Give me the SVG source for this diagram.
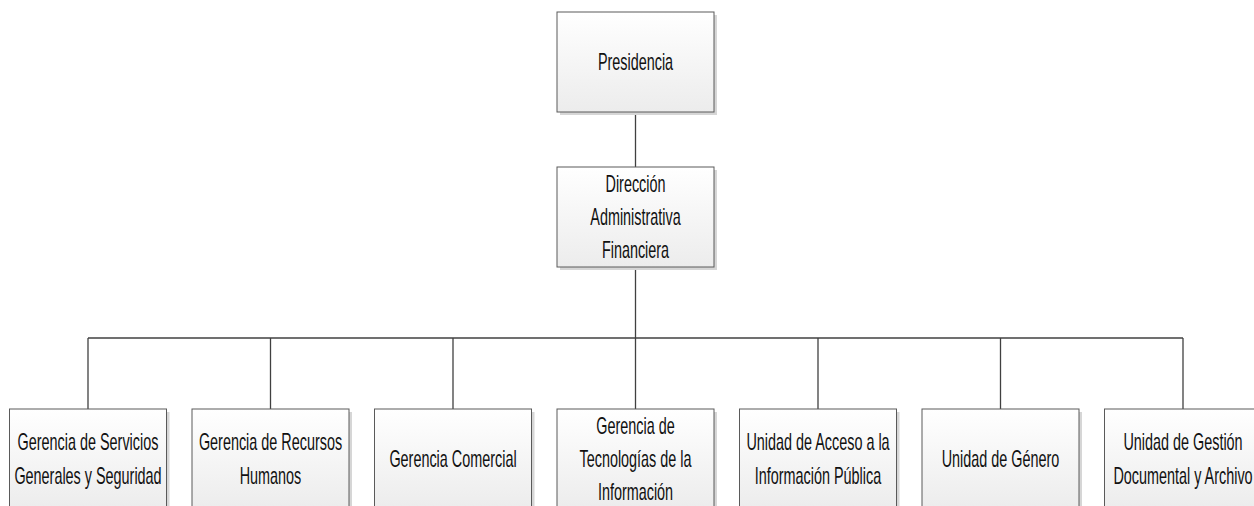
<svg xmlns="http://www.w3.org/2000/svg" width="1254" height="506" viewBox="0 0 1254 506">
  <defs>
    <linearGradient id="fill" x1="0" y1="0" x2="0" y2="1">
      <stop offset="0" stop-color="#ffffff"/>
      <stop offset="1" stop-color="#ececec"/>
    </linearGradient>
    <style>
      .box { fill: url(#fill); stroke: #5a5a5a; stroke-width: 1; }
      .shadow { fill: #d6d6d6; }
      .conn { stroke: #404040; stroke-width: 1.3; fill: none; }
      .t { font-family: "Liberation Sans", Arial, sans-serif; font-size: 24px; fill: #111111; text-anchor: middle; }
    </style>
  </defs>
  <rect width="1254" height="506" fill="#ffffff"/>

  <g id="connectors">
    <path class="conn" d="M635.5 112 V167"/>
    <path class="conn" d="M635.5 267 V338"/>
    <path class="conn" d="M88 338 H1183"/>
    <path class="conn" d="M88 338 V409"/>
    <path class="conn" d="M270.5 338 V409"/>
    <path class="conn" d="M453 338 V409"/>
    <path class="conn" d="M635.5 338 V409"/>
    <path class="conn" d="M818 338 V409"/>
    <path class="conn" d="M1000.5 338 V409"/>
    <path class="conn" d="M1183 338 V409"/>
  </g>

  <g id="presidencia">
    <rect class="shadow" x="560" y="15" width="157" height="100"/>
    <rect class="box" x="557" y="12" width="157" height="100"/>
    <text class="t" transform="translate(635.5,70) scale(0.6,1)">Presidencia</text>
  </g>

  <g id="direccion">
    <rect class="shadow" x="560" y="170" width="157" height="100"/>
    <rect class="box" x="557" y="167" width="157" height="100"/>
    <text class="t" transform="translate(635.5,192) scale(0.6,1)">Dirección</text>
    <text class="t" transform="translate(635.5,225) scale(0.6,1)">Administrativa</text>
    <text class="t" transform="translate(635.5,258) scale(0.6,1)">Financiera</text>
  </g>

  <g id="servicios">
    <rect class="shadow" x="12.5" y="412" width="157" height="100"/>
    <rect class="box" x="9.5" y="409" width="157" height="100"/>
    <text class="t" transform="translate(88,450) scale(0.6,1)">Gerencia de Servicios</text>
    <text class="t" transform="translate(88,484) scale(0.6,1)">Generales y Seguridad</text>
  </g>

  <g id="rrhh">
    <rect class="shadow" x="195" y="412" width="157" height="100"/>
    <rect class="box" x="192" y="409" width="157" height="100"/>
    <text class="t" transform="translate(270.5,450) scale(0.6,1)">Gerencia de Recursos</text>
    <text class="t" transform="translate(270.5,484) scale(0.6,1)">Humanos</text>
  </g>

  <g id="comercial">
    <rect class="shadow" x="377.5" y="412" width="157" height="100"/>
    <rect class="box" x="374.5" y="409" width="157" height="100"/>
    <text class="t" transform="translate(453,467) scale(0.6,1)">Gerencia Comercial</text>
  </g>

  <g id="tecnologias">
    <rect class="shadow" x="560" y="412" width="157" height="100"/>
    <rect class="box" x="557" y="409" width="157" height="100"/>
    <text class="t" transform="translate(635.5,434) scale(0.6,1)">Gerencia de</text>
    <text class="t" transform="translate(635.5,467) scale(0.6,1)">Tecnologías de la</text>
    <text class="t" transform="translate(635.5,500) scale(0.6,1)">Información</text>
  </g>

  <g id="acceso">
    <rect class="shadow" x="742.5" y="412" width="157" height="100"/>
    <rect class="box" x="739.5" y="409" width="157" height="100"/>
    <text class="t" transform="translate(818,450) scale(0.6,1)">Unidad de Acceso a la</text>
    <text class="t" transform="translate(818,484) scale(0.6,1)">Información Pública</text>
  </g>

  <g id="genero">
    <rect class="shadow" x="925" y="412" width="157" height="100"/>
    <rect class="box" x="922" y="409" width="157" height="100"/>
    <text class="t" transform="translate(1000.5,467) scale(0.6,1)">Unidad de Género</text>
  </g>

  <g id="archivo">
    <rect class="shadow" x="1107.5" y="412" width="157" height="100"/>
    <rect class="box" x="1104.5" y="409" width="157" height="100"/>
    <text class="t" transform="translate(1183,450) scale(0.6,1)">Unidad de Gestión</text>
    <text class="t" transform="translate(1183,484) scale(0.6,1)">Documental y Archivo</text>
  </g>
</svg>
